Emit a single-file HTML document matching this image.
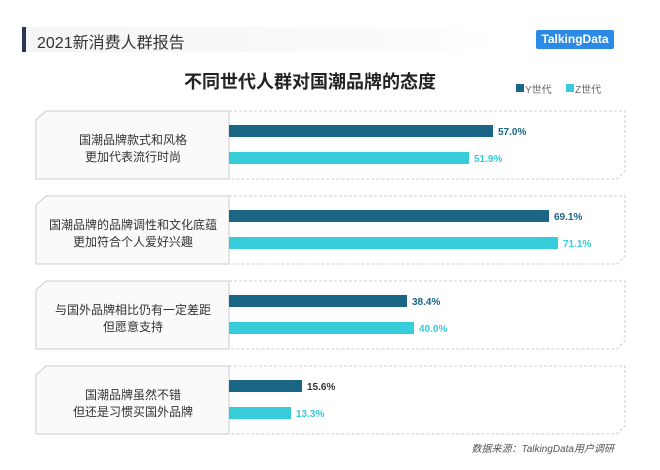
<!DOCTYPE html>
<html><head><meta charset="utf-8"><style>
body{margin:0;width:660px;height:470px;background:#fff;overflow:hidden;font-family:"Liberation Sans","Noto Sans CJK SC",sans-serif;position:relative}
.a{position:absolute}
</style></head><body>
<div class="a" style="left:22px;top:27px;width:480px;height:25px;background:linear-gradient(90deg,#f4f5f7,#fafbfc 80%,#fff)"></div>
<div class="a" style="left:22px;top:27px;width:4px;height:25px;background:#2a3550"></div>
<div class="a" style="left:37px;top:29px;font-size:16px;color:#333">2021新消费人群报告</div>
<div class="a" style="left:536px;top:30px;width:78px;height:19px;background:#2b8ae6;border-radius:2px;color:#fff;font-weight:bold;font-size:12px;line-height:19px;text-align:center">TalkingData</div>
<div class="a" style="left:0;width:620px;top:68px;text-align:center;font-size:18px;font-weight:bold;color:#222">不同世代人群对国潮品牌的态度</div>
<div class="a" style="left:516px;top:84px;width:8px;height:8px;background:#1b6585"></div>
<div class="a" style="left:525px;top:81px;font-size:10px;color:#666">Y世代</div>
<div class="a" style="left:566px;top:84px;width:8px;height:8px;background:#36ccd9"></div>
<div class="a" style="left:575px;top:81px;font-size:10px;color:#666">Z世代</div>
<svg class="a" style="left:0;top:0" width="660" height="470" font-family="Liberation Sans, Noto Sans CJK SC, sans-serif">
<defs>
<g id="frame">
<path d="M229 0 H625 V60 L617 68 H229" fill="none" stroke="#ccc" stroke-dasharray="3,2"/>
<path d="M229 0 H46 L36 9 V68 H229 Z" fill="#fafafa" stroke="#ccc"/>
</g>
</defs>
<g transform="translate(0,111)">
<use href="#frame"/>
<text x="133" y="33" text-anchor="middle" font-size="12" fill="#333">国潮品牌款式和风格</text>
<text x="133" y="50" text-anchor="middle" font-size="12" fill="#333">更加代表流行时尚</text>
<rect x="229" y="14" width="264" height="12" fill="#1b6585"/>
<rect x="229" y="41" width="240" height="12" fill="#36ccd9"/>
<text x="498" y="24" font-size="10" font-weight="bold" fill="#1b6585">57.0%</text>
<text x="474" y="51" font-size="10" font-weight="bold" fill="#36ccd9">51.9%</text>
</g>
<g transform="translate(0,196)">
<use href="#frame"/>
<text x="133" y="33" text-anchor="middle" font-size="12" fill="#333">国潮品牌的品牌调性和文化底蕴</text>
<text x="133" y="50" text-anchor="middle" font-size="12" fill="#333">更加符合个人爱好兴趣</text>
<rect x="229" y="14" width="320" height="12" fill="#1b6585"/>
<rect x="229" y="41" width="329" height="12" fill="#36ccd9"/>
<text x="554" y="24" font-size="10" font-weight="bold" fill="#1b6585">69.1%</text>
<text x="563" y="51" font-size="10" font-weight="bold" fill="#36ccd9">71.1%</text>
</g>
<g transform="translate(0,281)">
<use href="#frame"/>
<text x="133" y="33" text-anchor="middle" font-size="12" fill="#333">与国外品牌相比仍有一定差距</text>
<text x="133" y="50" text-anchor="middle" font-size="12" fill="#333">但愿意支持</text>
<rect x="229" y="14" width="178" height="12" fill="#1b6585"/>
<rect x="229" y="41" width="185" height="12" fill="#36ccd9"/>
<text x="412" y="24" font-size="10" font-weight="bold" fill="#1b6585">38.4%</text>
<text x="419" y="51" font-size="10" font-weight="bold" fill="#36ccd9">40.0%</text>
</g>
<g transform="translate(0,366)">
<use href="#frame"/>
<text x="133" y="33" text-anchor="middle" font-size="12" fill="#333">国潮品牌虽然不错</text>
<text x="133" y="50" text-anchor="middle" font-size="12" fill="#333">但还是习惯买国外品牌</text>
<rect x="229" y="14" width="73" height="12" fill="#1b6585"/>
<rect x="229" y="41" width="62" height="12" fill="#36ccd9"/>
<text x="307" y="24" font-size="10" font-weight="bold" fill="#333">15.6%</text>
<text x="296" y="51" font-size="10" font-weight="bold" fill="#36ccd9">13.3%</text>
</g>
<text x="614" y="452" text-anchor="end" font-size="10" font-style="italic" fill="#555">数据来源：TalkingData用户调研</text>
</svg>
</body></html>
